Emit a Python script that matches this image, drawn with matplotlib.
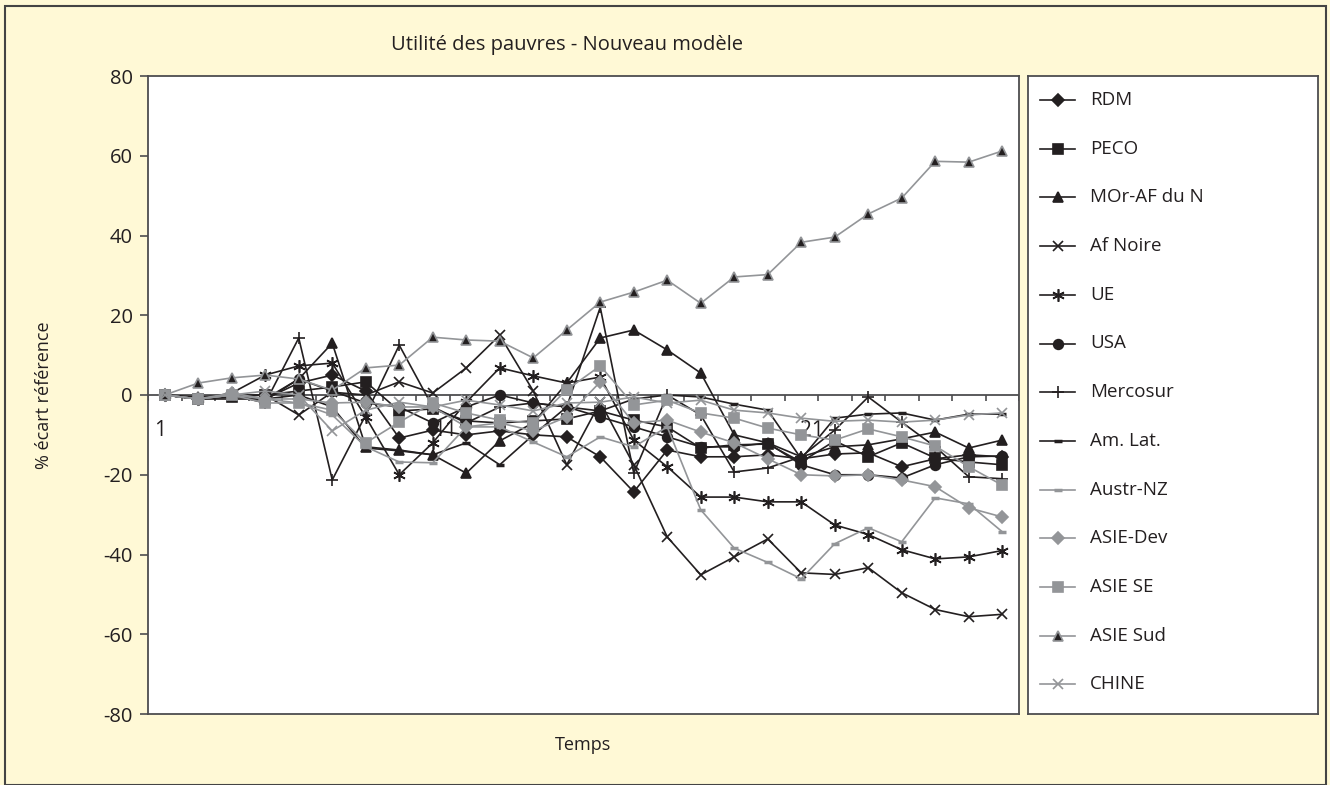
import matplotlib
matplotlib.use('Agg')
import matplotlib.pyplot as plt
from matplotlib.patches import Rectangle
import numpy as np

plt.rcParams['font.family'] = ['Open Sans', 'DejaVu Sans']
plt.rcParams['axes.unicode_minus'] = False

# valeurs (26 périodes)
rdm = [0, -1, 0, -1, 3, 5, 1, -10.8, -8.8, -10, -9, -10, -10.5, -15.5, -24.3, -13.8,
       -15.5, -15.5, -15, -16, -14.8, -14.5, -18, -16, -15, -15.5]
peco = [0, -1, -0.5, 0, 1, 2, 3.3, -4, -3.5, -6.5, -7, -6.5, -6, -4, -6.3, -8,
        -13.3, -12.5, -12.3, -16.8, -11.5, -15.5, -12, -15.8, -16.8, -17.5]
mor_af = [0, -0.5, 0, -1.3, 4, 13, -13, -13.8, -15, -19.6, -11.5, -7, 3, 14.3, 16.3, 11.3,
          5.5, -10, -12, -15.5, -13, -12.5, -11, -9.3, -13.3, -11.3]
af_noire = [0, -1, 0, 0, -5, 0.7, 0, 3.3, 0.5, 6.8, 15, 1, -17.5, -1.8, -17.5, -35.6,
            -45.1, -40.6, -36.1, -44.6, -45, -43.3, -49.6, -53.8, -55.6, -55]
ue = [0, -1, 0.5, 5, 7.3, 8, -5.5, -20, -12, -1.8, 6.8, 4.8, 3, 4.5, -11.3, -18,
      -25.6, -25.6, -26.8, -26.8, -32.6, -35, -38.8, -41.1, -40.6, -39]
usa = [0, -1, 0, -1, 4, 1, -2, -3, -7, -3, 0, -2, -3, -5.5, -8, -10.5,
       -13, -13, -12, -17.5, -20, -20, -20.8, -17.5, -15.5, -15.3]
mercosur = [0, -1, 0, -2, 14.3, -21.3, -5, 12.5, -3, -7, -3, -2, -3, 22, -19.6, 0,
            -5, -19.3, -18.3, -15.5, -8.8, -0.5, -6.8, -13, -20.5, -21]
am_lat = [0, -1, -1, -1, 0, -3, -13.3, -14, -15, -12, -17.5, -10, -3, -4, -1, 0,
          -0.5, -2.3, -3.8, -16, -5.8, -4.8, -4.5, -6.3, -4.8, -4.8]
austr_nz = [0, -1, 0, -1, -2, -5, -13, -16.8, -17, -8, -8, -11.8, -15.5, -10.5, -13, -8,
            -28.8, -38.4, -42, -46.1, -37.3, -33.3, -36.8, -25.8, -27.3, -34.3]
asie_dev = [0, -1, 0.5, -1, -1, -2, -1.8, -3, -3, -8, -7, -9, -5.5, 3.3, -7, -6.3,
            -9.3, -12, -16, -20, -20.3, -20, -21.3, -23, -28.3, -30.6]
asie_se = [0, -1, 0, -2, -2, -3.8, -12, -6.8, -2, -4.5, -6.3, -7, 1.3, 7.3, -2.5, -1.3,
           -4.5, -5.8, -8.3, -10, -11.3, -8.5, -10.5, -12.8, -18, -22.6]
asie_sud = [0, 3, 4.3, 5, 4, 1.2, 6.8, 7.5, 14.5, 13.8, 13.5, 9.3, 16.3, 23.3, 25.8, 28.8,
            23, 29.6, 30.2, 38.3, 39.6, 45.4, 49.4, 58.6, 58.4, 61.2]
chine = [0, -1, 0, 1, 0, -9, -3.8, -1.8, -3, -1.3, -2.5, -4, -2, -1.8, -0.5, -2,
         -1.3, -3.8, -4.5, -5.8, -6.6, -6.3, -6.8, -6.3, -5, -4.5]

noms = ['RDM', 'PECO', 'MOr-AF du N', 'Af Noire', 'UE', 'USA', 'Mercosur', 'Am. Lat.',
        'Austr-NZ', 'ASIE-Dev', 'ASIE SE', 'ASIE Sud', 'CHINE']
series = [rdm, peco, mor_af, af_noire, ue, usa, mercosur, am_lat,
          austr_nz, asie_dev, asie_se, asie_sud, chine]

noir = '#231f20'
gris = '#939598'
fond = '#fff9d6'
trait = '#4d4d4f'

# style de chaque série : couleur de ligne, marqueur, face, bord, taille
styles = [
    (noir, 'D', noir, noir, 6),
    (noir, 's', noir, noir, 7),
    (noir, '^', noir, noir, 7.5),
    (noir, 'x', noir, noir, 7.5),
    (noir, (6, 2, 0), noir, noir, 9),
    (noir, 'o', noir, noir, 7),
    (noir, '+', noir, noir, 9),
    (noir, '_', noir, noir, 6),
    (gris, '_', gris, gris, 6),
    (gris, 'D', gris, gris, 6),
    (gris, 's', gris, gris, 7),
    (gris, '^', noir, gris, 7),
    (gris, 'x', gris, gris, 7.5),
]

fig = plt.figure(figsize=(13.3, 7.85), dpi=100)
fig.patch.set_facecolor(fond)
fig.patches.append(Rectangle((0.004, 0.0), 0.993, 0.992, transform=fig.transFigure,
                             fill=False, edgecolor='#444444', lw=1.5))

ax = fig.add_axes([148 / 1330, 1 - 714 / 785, 871 / 1330, 638 / 785])
ax.set_facecolor('white')
x = np.arange(len(rdm))

ax.axhline(0, color=trait, lw=1.3, zorder=1)
ax.vlines(np.arange(-0.5, 26, 1), -1.6, 0, color=trait, lw=1.2, zorder=1)

for vals, (c, m, fc, ec, ms) in zip(series, styles):
    mew = 2.5 if m == '_' else 1.2
    ax.plot(x, vals, color=c, lw=1.2, marker=m, markersize=ms,
            markerfacecolor=fc, markeredgecolor=ec, markeredgewidth=mew, zorder=3)

ax.set_xlim(-0.5, 25.5)
ax.set_ylim(-80, 80)
ax.set_yticks(np.arange(-80, 81, 20))
ax.set_xticks([])
ax.tick_params(axis='y', labelsize=14.5, length=6, width=1.2, color=trait,
               labelcolor=noir, pad=5)
for s in ax.spines.values():
    s.set_color(trait)
    s.set_linewidth(1.3)

# étiquettes de l'axe des temps
for lab, xp in [('1', -0.15), ('11', 8.37), ('21', 19.33)]:
    ax.text(xp, -8.8, lab, fontsize=15, ha='center', va='center', color=noir, zorder=2)

ax.set_ylabel('% écart référence', fontsize=13, color=noir)
ax.yaxis.set_label_coords(-95 / 871, 0.5)
fig.text(583 / 1330, 1 - 745 / 785, 'Temps', fontsize=13, ha='center', va='center', color=noir)
fig.text(567 / 1330, 1 - 45 / 785, 'Utilité des pauvres - Nouveau modèle', fontsize=14.5,
         ha='center', va='center', color=noir)

# légende dans un cadre à droite
lg = fig.add_axes([1028 / 1330, 1 - 714 / 785, 290 / 1330, 638 / 785])
lg.set_facecolor('white')
lg.set_xlim(0, 290)
lg.set_ylim(638, 0)
lg.set_xticks([])
lg.set_yticks([])
for s in lg.spines.values():
    s.set_color(trait)
    s.set_linewidth(1.3)
for k, (nom, (c, m, fc, ec, ms)) in enumerate(zip(noms, styles)):
    yy = 24 + k * 48.7
    mew = 2.5 if m == '_' else 1.2
    lg.plot([12, 47], [yy, yy], color=c, lw=1.2)
    lg.plot([29.5], [yy], marker=m, markersize=ms, markerfacecolor=fc,
            markeredgecolor=ec, markeredgewidth=mew, color=c)
    lg.text(62, yy, nom, fontsize=13.5, va='center', ha='left', color=noir)

fig.savefig('out.png', dpi=100, facecolor=fond)
